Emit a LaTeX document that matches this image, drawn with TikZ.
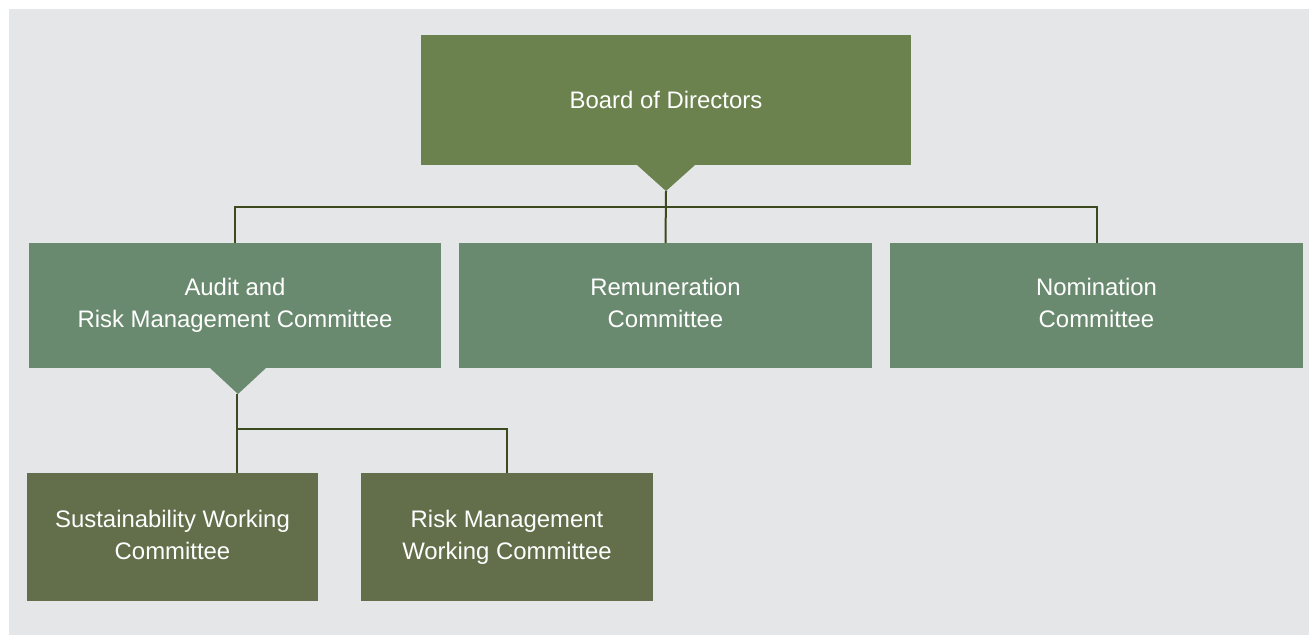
\documentclass[tikz,border=0pt]{standalone}
\usepackage{fontspec}
\setmainfont{Liberation Sans}
\definecolor{bgc}{RGB}{229,230,232}
\definecolor{boardc}{RGB}{107,130,78}
\definecolor{midc}{RGB}{106,138,111}
\definecolor{lowc}{RGB}{99,111,74}
\definecolor{linec}{RGB}{59,74,31}
\begin{document}
\begin{tikzpicture}[x=1pt,y=-1pt,
  box/.style={rectangle, inner sep=0pt, text=white, align=center,
    font=\fontsize{23.9}{32}\selectfont},
  conn/.style={draw=linec, line width=2pt}]
\useasboundingbox (0,0) rectangle (1309,635);
\fill[white] (0,0) rectangle (1309,635);
\fill[bgc] (9,9) rectangle (1309,635);
% boxes
\node[box, fill=boardc, minimum width=490pt, minimum height=130pt] (board) at (666,100) {Board of Directors};
\node[box, fill=midc, minimum width=412pt, minimum height=125pt] (b1) at (235,305.5) {Audit and\\Risk Management Committee};
\node[box, fill=midc, minimum width=413pt, minimum height=125pt] (b2) at (665.5,305.5) {Remuneration\\Committee\vphantom{g}};
\node[box, fill=midc, minimum width=413pt, minimum height=125pt] (b3) at (1096.5,305.5) {Nomination\\Committee\vphantom{g}};
\node[box, fill=lowc, minimum width=291pt, minimum height=128pt] (c1) at (172.5,537) {Sustainability Working\\Committee\vphantom{g}};
\node[box, fill=lowc, minimum width=292pt, minimum height=128pt] (c2) at (507,537) {Risk Management\\Working Committee};
% pointer triangles
\coordinate (bt) at (666,191);
\fill[boardc] (637,165) -- (bt) -- (695,165) -- cycle;
\coordinate (at) at (238,394);
\fill[midc] (210,368) -- (at) -- (266,368) -- cycle;
% connectors
\coordinate (bus) at (666,207);
\draw[conn] (bt) -- (b2.north);
\draw[conn] (b1.north) |- (bus) -| (b3.north);
\coordinate (at2) at (237,394);
\coordinate (bus2) at (237,429);
\draw[conn] (at2) -- (at2 |- c1.north);
\draw[conn] (bus2) -| (c2.north);
\end{tikzpicture}
\end{document}
